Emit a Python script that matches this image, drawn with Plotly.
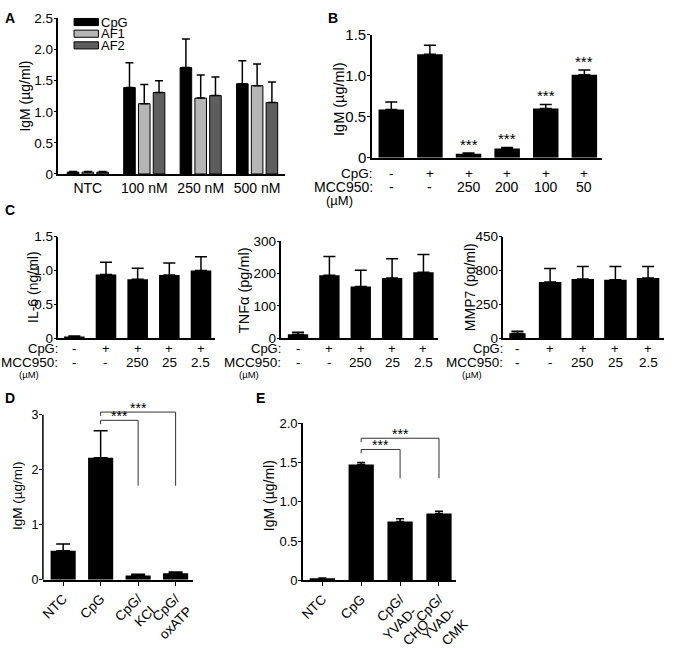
import plotly.graph_objects as go

W, H = 681, 656
FONT = "Liberation Sans, Arial, sans-serif"

# ---------------- data ----------------
# Panel A
a_groups = ["NTC", "100 nM", "250 nM", "500 nM"]
a_series = ["CpG", "AF1", "AF2"]
a_colors = ["#000000", "#b5b5b5", "#5e5e5e"]
a_cpg = [0.03, 1.39, 1.71, 1.45]
a_af1 = [0.03, 1.13, 1.22, 1.42]
a_af2 = [0.03, 1.31, 1.26, 1.15]
a_cpg_err = [0.01, 0.40, 0.46, 0.37]
a_af1_err = [0.01, 0.31, 0.37, 0.35]
a_af2_err = [0.01, 0.19, 0.30, 0.33]

# Panel B
b_cpg_row = ["-", "+", "+", "+", "+", "+"]
b_mcc_row = ["-", "-", "250", "200", "100", "50"]
b_vals = [0.59, 1.26, 0.05, 0.115, 0.60, 1.01]
b_err = [0.09, 0.11, 0.01, 0.012, 0.05, 0.06]
b_sig = ["", "", "***", "***", "***", "***"]

# Panel C
c_cpg_row = ["-", "+", "+", "+", "+"]
c_mcc_row = ["-", "-", "250", "25", "2.5"]
c_il6 = [0.02, 0.94, 0.87, 0.93, 1.00]
c_il6_err = [0.01, 0.18, 0.16, 0.18, 0.20]
c_tnf = [12, 195, 160, 186, 204]
c_tnf_err = [6, 58, 50, 60, 55]
c_mmp7 = [21, 249, 262, 258, 266]
c_mmp7_err = [9, 59, 55, 59, 51]

# Panel D
d_labels = ["NTC", "CpG", "CpG/<br>KCl", "CpG/<br>oxATP"]
d_vals = [0.53, 2.22, 0.08, 0.12]
d_err = [0.12, 0.49, 0.02, 0.02]

# Panel E
e_labels = ["NTC", "CpG", "CpG/<br>YVAD-<br>CHO", "CpG/<br>YVAD-<br>CMK"]
e_vals = [0.02, 1.476, 0.75, 0.85]
e_err = [0.01, 0.025, 0.035, 0.03]

# significance brackets: (from index, to index, bracket level, drop-to level)
d_brackets = [(1, 3, 3.05, 1.71), (1, 2, 2.90, 1.71)]
e_brackets = [(1, 3, 1.81, 1.30), (1, 2, 1.667, 1.30)]


def fx(px):
    return px / W


def fy(py):
    return 1 - py / H


fig = go.Figure()


def err(arr, width, thick=1.5):
    return dict(type="data", symmetric=False, array=arr, arrayminus=[0] * len(arr),
                color="black", thickness=thick, width=width)


# ---- A ----
a_vals_all = [a_cpg, a_af1, a_af2]
a_err_all = [a_cpg_err, a_af1_err, a_af2_err]
for i, name in enumerate(a_series):
    fig.add_trace(go.Bar(
        x=a_groups, y=a_vals_all[i], name=name, width=0.205, offset=-0.1025 + (i - 1) * 0.262,
        marker=dict(color=a_colors[i], line=dict(color="black", width=1)),
        error_y=err(a_err_all[i], 4), xaxis="x", yaxis="y", showlegend=False))

# ---- B ----
b_x = list(range(len(b_vals)))
fig.add_trace(go.Bar(x=b_x, y=b_vals, width=0.66, marker=dict(color="black", line=dict(width=0)),
                     error_y=err(b_err, 6), xaxis="x2", yaxis="y2", showlegend=False))

# ---- C ----
c_x = list(range(len(c_il6)))
for k, (vals, errs) in enumerate([(c_il6, c_il6_err), (c_tnf, c_tnf_err), (c_mmp7, c_mmp7_err)]):
    widths = [0.65] * len(vals)
    if k == 2:
        widths = [0.5] + [0.69] * (len(vals) - 1)
    fig.add_trace(go.Bar(x=c_x, y=vals, width=widths, marker=dict(color="black", line=dict(width=0)),
                         error_y=err(errs, 6), xaxis="x%d" % (3 + k), yaxis="y%d" % (3 + k),
                         showlegend=False))

# ---- D ----
fig.add_trace(go.Bar(x=d_labels, y=d_vals, width=0.67, marker=dict(color="black", line=dict(width=0)),
                     error_y=err(d_err, 7), xaxis="x6", yaxis="y6", showlegend=False))
# ---- E ----
fig.add_trace(go.Bar(x=e_labels, y=e_vals, width=0.65, marker=dict(color="black", line=dict(width=0)),
                     error_y=err(e_err, 4), xaxis="x7", yaxis="y7", showlegend=False))


def xax(dom, rng, **kw):
    d = dict(domain=[fx(dom[0]), fx(dom[1])], range=rng, showline=True, linecolor="black",
             linewidth=1.5, showgrid=False, zeroline=False, ticks="", showticklabels=False,
             fixedrange=True, tickfont=dict(family=FONT, size=13, color="black"))
    d.update(kw)
    return d


def yax(dom, rng, tv, tt, size=13, **kw):
    d = dict(domain=[fy(dom[0]), fy(dom[1])], range=rng, showline=True, linecolor="black",
             linewidth=1.5, showgrid=False, zeroline=False, ticks="outside", ticklen=3,
             tickwidth=1.2, tickcolor="black", tickvals=tv, ticktext=tt, ticklabelstandoff=-2,
             tickfont=dict(family=FONT, size=size, color="black"), fixedrange=True)
    d.update(kw)
    return d


rot_font = dict(family=FONT, size=13.5, color="black")
layout = dict(
    width=W, height=H, margin=dict(l=0, r=0, t=0, b=0),
    paper_bgcolor="white", plot_bgcolor="white", barmode="overlay",
    font=dict(family=FONT, size=13, color="black"),
    xaxis=xax((57, 290), [-0.52, 3.5], showticklabels=True, tickfont=dict(family=FONT, size=14, color="black")),
    yaxis=yax((174, 10), [0, 2.5], [0, 0.5, 1, 1.5, 2, 2.5], ["0", "0.5", "1.0", "1.5", "2.0", "2.5"], 13.5, anchor="x"),
    xaxis2=xax((379, 615), [-0.5, 5.45], anchor="y2"),
    yaxis2=yax((157, 27), [0, 1.5], [0, 0.5, 1, 1.5], ["0", "0.5", "1.0", "1.5"], 15, anchor="x2"),
    xaxis3=xax((57, 218), [-0.5, 4.45], anchor="y3"),
    yaxis3=yax((347, 240), [0, 1.5], [0, 0.5, 1, 1.5], ["0", "0.5", "1.0", "1.5"], 13.5, anchor="x3"),
    xaxis4=xax((286, 447), [-0.53, 4.47], anchor="y4"),
    yaxis4=yax((347, 245), [0, 300], [0, 100, 200, 300], ["0", "100", "200", "300"], 13.5, anchor="x4"),
    xaxis5=xax((514, 679), [-0.43, 4.49], anchor="y5"),
    yaxis5=yax((347, 240), [0, 450], [0, 150, 300, 450], ["0", "250", "300", "450"], 13.5, anchor="x5"),
    xaxis6=xax((41, 195), [-0.54, 3.46], anchor="y6", showticklabels=True, ticks="outside", ticklen=4,
               tickwidth=1.2, tickcolor="black", tickangle=-45, tickfont=rot_font),
    yaxis6=yax((602, 602 - 3.1 * 58), [0, 3.1], [0, 1, 2, 3], ["0", "1", "2", "3"], 12.5, anchor="x6", showline=False),
    xaxis7=xax((308, 465), [-0.5, 3.43], anchor="y7", showticklabels=True, ticks="outside", ticklen=4,
               tickwidth=1.2, tickcolor="black", tickangle=-45, tickfont=rot_font),
    yaxis7=yax((602.5, 437), [0, 2.0], [0, 0.5, 1, 1.5, 2], ["0", "0.5", "1.0", "1.5", "2.0"], 13, anchor="x7"),
)
fig.update_layout(**layout)

ann = []
shapes = []

# panel letters
for txt, px, py in [("A", 7, 10), ("B", 339, 9), ("C", 7, 212), ("D", 7, 410), ("E", 265, 410)]:
    ann.append(dict(text="<b>%s</b>" % txt, x=fx(px), y=fy(py), xref="paper", yref="paper",
                    showarrow=False, xanchor="center", yanchor="middle", font=dict(size=14)))

# y titles
for txt, px, py, size in [("IgM (µg/ml)", 23, 92, 14), ("IgM (µg/ml)", 345, 95, 14.5),
                          ("IL-6 (ng/ml)", 31, 293, 14), ("TNFα (pg/ml)", 247, 296, 14.5),
                          ("MMP7 (pg/ml)", 479, 293, 14), ("IgM (µg/ml)", 15, 513, 13.5),
                          ("IgM (µg/ml)", 274, 513, 14)]:
    ann.append(dict(text=txt, x=fx(px), y=fy(py), xref="paper", yref="paper", textangle=-90,
                    showarrow=False, xanchor="center", yanchor="middle", font=dict(size=size)))

# legend A (manual, Prism style)
for i, name in enumerate(a_series):
    top = 10 + i * 12.3
    shapes.append(dict(type="rect", xref="paper", yref="paper", x0=fx(73), x1=fx(98),
                       y0=fy(top + 7.5), y1=fy(top), fillcolor=a_colors[i],
                       line=dict(color="black", width=1)))
    ann.append(dict(text=name, x=fx(100), y=fy(top + 4), xref="paper", yref="paper",
                    showarrow=False, xanchor="left", yanchor="middle", borderpad=0,
                    font=dict(size=13)))

# B stars
for i, s in enumerate(b_sig):
    if s:
        ann.append(dict(text=s, x=b_x[i], y=b_vals[i] + b_err[i], xref="x2", yref="y2",
                        showarrow=False, xanchor="center", yanchor="bottom", yshift=-2,
                        font=dict(size=15)))


# row labels
def rows(xref, xs, cpg, mcc, right_px, y1, y2, y3, mu_px, mu_size, size=13):
    ann.append(dict(text="CpG:", x=fx(right_px), y=fy(y1), xref="paper", yref="paper", borderpad=0,
                    showarrow=False, xanchor="right", yanchor="middle", font=dict(size=size)))
    ann.append(dict(text="MCC950:", x=fx(right_px), y=fy(y2), xref="paper", yref="paper", borderpad=0,
                    showarrow=False, xanchor="right", yanchor="middle", font=dict(size=size + 0.5)))
    ann.append(dict(text="(µM)", x=fx(mu_px), y=fy(y3), xref="paper", yref="paper", borderpad=0,
                    showarrow=False, xanchor="center", yanchor="middle", font=dict(size=mu_size)))
    for i, x in enumerate(xs):
        ann.append(dict(text=cpg[i], x=x, y=fy(y1), xref=xref, yref="paper", showarrow=False,
                        borderpad=0, xanchor="center", yanchor="middle", font=dict(size=size)))
        ann.append(dict(text=mcc[i], x=x, y=fy(y2), xref=xref, yref="paper", showarrow=False,
                        borderpad=0, xanchor="center", yanchor="middle", font=dict(size=size + 0.5)))


rows("x2", b_x, b_cpg_row, b_mcc_row, 381, 173, 188, 202, 346, 13, 13.5)
rows("x3", c_x, c_cpg_row, c_mcc_row, 58, 358, 372.5, 386, 27, 9.5)
rows("x4", c_x, c_cpg_row, c_mcc_row, 287, 358, 372.5, 386, 253, 9.5)
rows("x5", c_x, c_cpg_row, c_mcc_row, 515, 358, 372.5, 386, 482, 9.5)

# D y-axis line (range extended above 3 so brackets are not clipped)
shapes.append(dict(type="line", xref="x6 domain", yref="y6", x0=0, x1=0, y0=0, y1=3,
                   line=dict(color="black", width=1.5)))


def brackets(xref, yref, labels, blist, tick, size):
    for (a, b, lvl, drop) in blist:
        xa, xb = labels[a], labels[b]
        ln = dict(color="#333333", width=1)
        shapes.append(dict(type="line", xref=xref, yref=yref, x0=xa, x1=xb, y0=lvl, y1=lvl, line=ln))
        shapes.append(dict(type="line", xref=xref, yref=yref, x0=xa, x1=xa, y0=lvl, y1=lvl - tick, line=ln))
        shapes.append(dict(type="line", xref=xref, yref=yref, x0=xb, x1=xb, y0=lvl, y1=drop, line=ln))
        ann.append(dict(text="***", x=(a + b) / 2, y=lvl, xref=xref, yref=yref, showarrow=False,
                        xanchor="center", yanchor="bottom", yshift=-6, font=dict(size=size)))


brackets("x6", "y6", d_labels, d_brackets, 0.07, 14)
brackets("x7", "y7", e_labels, e_brackets, 0.05, 14)

fig.update_layout(annotations=ann, shapes=shapes)
fig.write_html("out.html", config={"displayModeBar": False},
               post_script="document.body.style.margin='0';document.body.style.overflow='hidden';")
